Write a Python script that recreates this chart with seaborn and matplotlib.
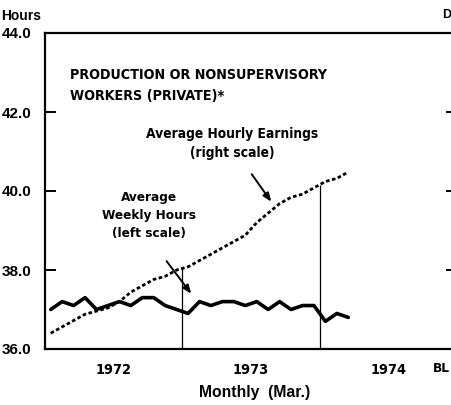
import numpy as np
import pandas as pd
import matplotlib
matplotlib.use("Agg")
import matplotlib.pyplot as plt
from matplotlib import font_manager as fm
import seaborn as sns

# ---- data ----
months = pd.date_range("1972-01-01", "1974-03-01", freq="MS")
weekly_hours = [37.0, 37.2, 37.1, 37.3, 37.0, 37.1, 37.2, 37.1, 37.3, 37.3, 37.1, 37.0,
                36.9, 37.2, 37.1, 37.2, 37.2, 37.1, 37.2, 37.0, 37.2, 37.0, 37.1, 37.1,
                36.7, 36.9, 36.8]
hourly_earnings = [3.55, 3.57, 3.59, 3.61, 3.62, 3.63, 3.65, 3.68, 3.70, 3.72, 3.73, 3.75,
                   3.76, 3.78, 3.80, 3.82, 3.84, 3.86, 3.90, 3.93, 3.96, 3.98, 3.99, 4.01,
                   4.03, 4.04, 4.06]
year_labels = ["1972", "1973", "1974"]
hours_ticks = [36.0, 38.0, 40.0, 42.0, 44.0]
earn_ticks = [3.50, 3.75, 4.00, 4.25, 4.50]

pos = (months.year - 1972) * 12 + (months.month - 1) + 0.5
df = pd.DataFrame({"month": pos, "hours": weekly_hours, "earn": hourly_earnings})

sns.set_style("white")
WIDE = ["Liberation Sans", "DejaVu Sans"]
plt.rcParams["font.family"] = WIDE
for k in ("text.color", "axes.labelcolor", "xtick.color", "ytick.color", "axes.edgecolor"):
    plt.rcParams[k] = "black"


def find_narrow_bold():
    smap = {"ultra-condensed": 100, "extra-condensed": 200, "condensed": 300,
            "semi-condensed": 400, "normal": 500}
    best = None
    for f in fm.fontManager.ttflist:
        nm = f.name.lower()
        fn = f.fname.lower()
        if "mono" in nm or "serif" in nm or f.style != "normal":
            continue
        st = smap.get(f.stretch, 500) if isinstance(f.stretch, str) else f.stretch
        w = f.weight if isinstance(f.weight, int) else {"bold": 700}.get(f.weight, 400)
        narrow = st < 500 or any(k in nm or k in fn for k in ("narrow", "condensed", "cond"))
        if narrow and w >= 600:
            score = abs(w - 700) + abs((st if st < 500 else 300) - 300)
            if best is None or score < best[0]:
                best = (score, f.fname)
    return best[1] if best else None


narrow_file = find_narrow_bold()
if narrow_file:
    NARROW = dict(fontproperties=fm.FontProperties(fname=narrow_file))
else:
    NARROW = dict(fontfamily=["Roboto", "Liberation Sans", "DejaVu Sans"], fontweight="bold")

W, H = 452, 405
fig = plt.figure(figsize=(W / 100, H / 100), dpi=100)
ax = fig.add_axes([45 / W, (H - 349) / H, 412 / W, 316 / H])

sns.lineplot(data=df, x="month", y="hours", ax=ax, color="black", linewidth=2.6)
ax2 = ax.twinx()
sns.lineplot(data=df, x="month", y="earn", ax=ax2, color="black", linewidth=2.0,
             linestyle=(0, (1.3, 0.9)))

bounds = [12, 24]
ax2.vlines(bounds, earn_ticks[0], np.interp(bounds, pos, hourly_earnings),
           color="black", linewidth=0.9)

ax.set_xlim(0, 36)
ax.set_ylim(hours_ticks[0], hours_ticks[-1])
ax2.set_ylim(earn_ticks[0], earn_ticks[-1])

ax.set_yticks(hours_ticks, labels=[f"{v:.1f}" for v in hours_ticks],
              fontfamily=WIDE, fontweight="bold", fontsize=11)
ax.tick_params(axis="y", direction="in", length=8, width=1.4, pad=10)
ax2.set_yticks(earn_ticks, labels=[])
ax2.tick_params(axis="y", direction="in", length=8, width=1.4)

ax.set_xticks(np.arange(0, 37), minor=True)
ax.set_xticks([6, 18, 30], labels=[])
ax.tick_params(axis="x", which="minor", direction="in", length=5, width=1.2)
ax.tick_params(axis="x", which="major", direction="in", length=9, width=1.2)

ax.set_xlabel("")
ax.set_ylabel("")
ax2.set_ylabel("")
for a in (ax, ax2):
    for s in a.spines.values():
        s.set_linewidth(1.6)
        s.set_color("black")
ax2.spines["left"].set_visible(False)
ax2.spines["bottom"].set_visible(False)
ax2.spines["top"].set_visible(False)

fitted = []  # (text, target width in px)

for x, lab in zip([6, 18, 30], year_labels):
    t = ax.text(x, -0.066, lab, transform=ax.get_xaxis_transform(), ha="center",
                va="center", fontsize=13, **NARROW)
    fitted.append((t, 36))

t = ax.text(0.061, 0.889, "PRODUCTION OR NONSUPERVISORY\nWORKERS (PRIVATE)*",
            transform=ax.transAxes, ha="left", va="top", fontsize=12.5,
            linespacing=1.65, **NARROW)
fitted.append((t, 258))
t = ax.text(0.454, 0.702, "Average Hourly Earnings\n(right scale)", transform=ax.transAxes,
            ha="center", va="top", fontsize=12, linespacing=1.45, **NARROW)
fitted.append((t, 172))
t = ax.text(0.252, 0.500, "Average\nWeekly Hours\n(left scale)", transform=ax.transAxes,
            ha="center", va="top", fontsize=12, linespacing=1.5, **NARROW)
fitted.append((t, 94))

arrow = dict(arrowstyle="-|>,head_length=0.5,head_width=0.2", color="black", lw=1.4)
ax.annotate("", xy=(0.553, 0.459), xytext=(0.498, 0.560),
            xycoords="axes fraction", textcoords="axes fraction", arrowprops=arrow)
ax.annotate("", xy=(0.359, 0.168), xytext=(0.291, 0.285),
            xycoords="axes fraction", textcoords="axes fraction", arrowprops=arrow)

t = fig.text(1 / W, 1 - 16 / H, "Hours", ha="left", va="center", fontsize=10,
             fontweight="bold", fontfamily=WIDE)
fitted.append((t, 40))
fig.text(442 / W, 1 - 15 / H, "D", ha="left", va="center", fontsize=9,
         fontweight="bold", fontfamily=WIDE)
t = fig.text(255 / W, 1 - 392 / H, "Monthly  (Mar.)", ha="center", va="center",
             fontsize=11, fontweight="semibold", fontfamily=WIDE)
fitted.append((t, 111))
t = fig.text(433 / W, 1 - 369 / H, "BL", ha="left", va="center", fontsize=13, **NARROW)
fitted.append((t, 17))

# scale font sizes so each text spans the width measured on the reference
fig.canvas.draw()
r = fig.canvas.get_renderer()
for t, target in fitted:
    w = t.get_window_extent(renderer=r).width
    if w > 0:
        t.set_fontsize(t.get_fontsize() * target / w)

fig.savefig("out.png", dpi=100)
